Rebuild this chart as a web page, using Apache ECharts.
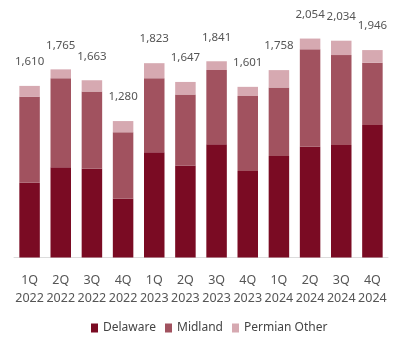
<!DOCTYPE html>
<html>
<head>
<meta charset="utf-8">
<script src="https://cdn.jsdelivr.net/npm/echarts@6/dist/echarts.min.js"></script>
<style>
  html, body { margin: 0; padding: 0; background: #ffffff; }
  #chart { width: 397px; height: 339px; }
</style>
</head>
<body>
<div id="chart"></div>
<script>
// Quarterly Permian volumes by sub-basin
const quarters = ['1Q\n2022', '2Q\n2022', '3Q\n2022', '4Q\n2022',
                  '1Q\n2023', '2Q\n2023', '3Q\n2023', '4Q\n2023',
                  '1Q\n2024', '2Q\n2024', '3Q\n2024', '4Q\n2024'];
const delaware = [701, 847, 832, 551, 988, 863, 1062, 811, 952, 1039, 1055, 1243];
const midland = [806, 835, 725, 624, 694, 666, 697, 704, 644, 914, 844, 584];
const permianOther = [103, 83, 106, 105, 141, 118, 82, 86, 162, 101, 135, 119];
const totals = [1610, 1765, 1663, 1280, 1823, 1647, 1841, 1601, 1758, 2054, 2034, 1946];

const FONT = '"Noto Sans", sans-serif';
const chart = echarts.init(document.getElementById('chart'), null, { renderer: 'canvas' });

chart.setOption({
  animation: false,
  backgroundColor: '#ffffff',
  grid: { left: 14, right: 9, top: 23, bottom: 81.5, containLabel: false },
  legend: {
    top: 317,
    left: 86,
    itemWidth: 7,
    itemHeight: 9,
    itemGap: 9,
    icon: 'rect',
    textStyle: { fontFamily: FONT, fontSize: 12, color: '#444444' },
    data: ['Delaware', 'Midland', 'Permian Other']
  },
  xAxis: {
    type: 'category',
    data: quarters,
    axisLine: { show: true, lineStyle: { color: '#dcdcdc', width: 1 } },
    axisTick: { show: false },
    axisLabel: {
      interval: 0,
      margin: 14,
      fontFamily: FONT,
      fontSize: 12.5,
      lineHeight: 18,
      color: '#555555'
    }
  },
  yAxis: {
    type: 'value',
    min: 0,
    max: 2200,
    show: false,
    splitLine: { show: false }
  },
  series: [
    {
      name: 'Delaware',
      type: 'bar',
      stack: 'permian',
      barWidth: 20.5,
      itemStyle: { color: '#7a0b23' },
      data: delaware
    },
    {
      name: 'Midland',
      type: 'bar',
      stack: 'permian',
      itemStyle: { color: '#a1525f' },
      data: midland
    },
    {
      name: 'Permian Other',
      type: 'bar',
      stack: 'permian',
      itemStyle: { color: '#d6a9b1' },
      label: {
        show: true,
        position: 'top',
        distance: 18,
        fontFamily: FONT,
        fontSize: 11.5,
        color: '#555555',
        formatter: (p) => totals[p.dataIndex].toLocaleString('en-US')
      },
      data: permianOther
    }
  ]
});
</script>
</body>
</html>
